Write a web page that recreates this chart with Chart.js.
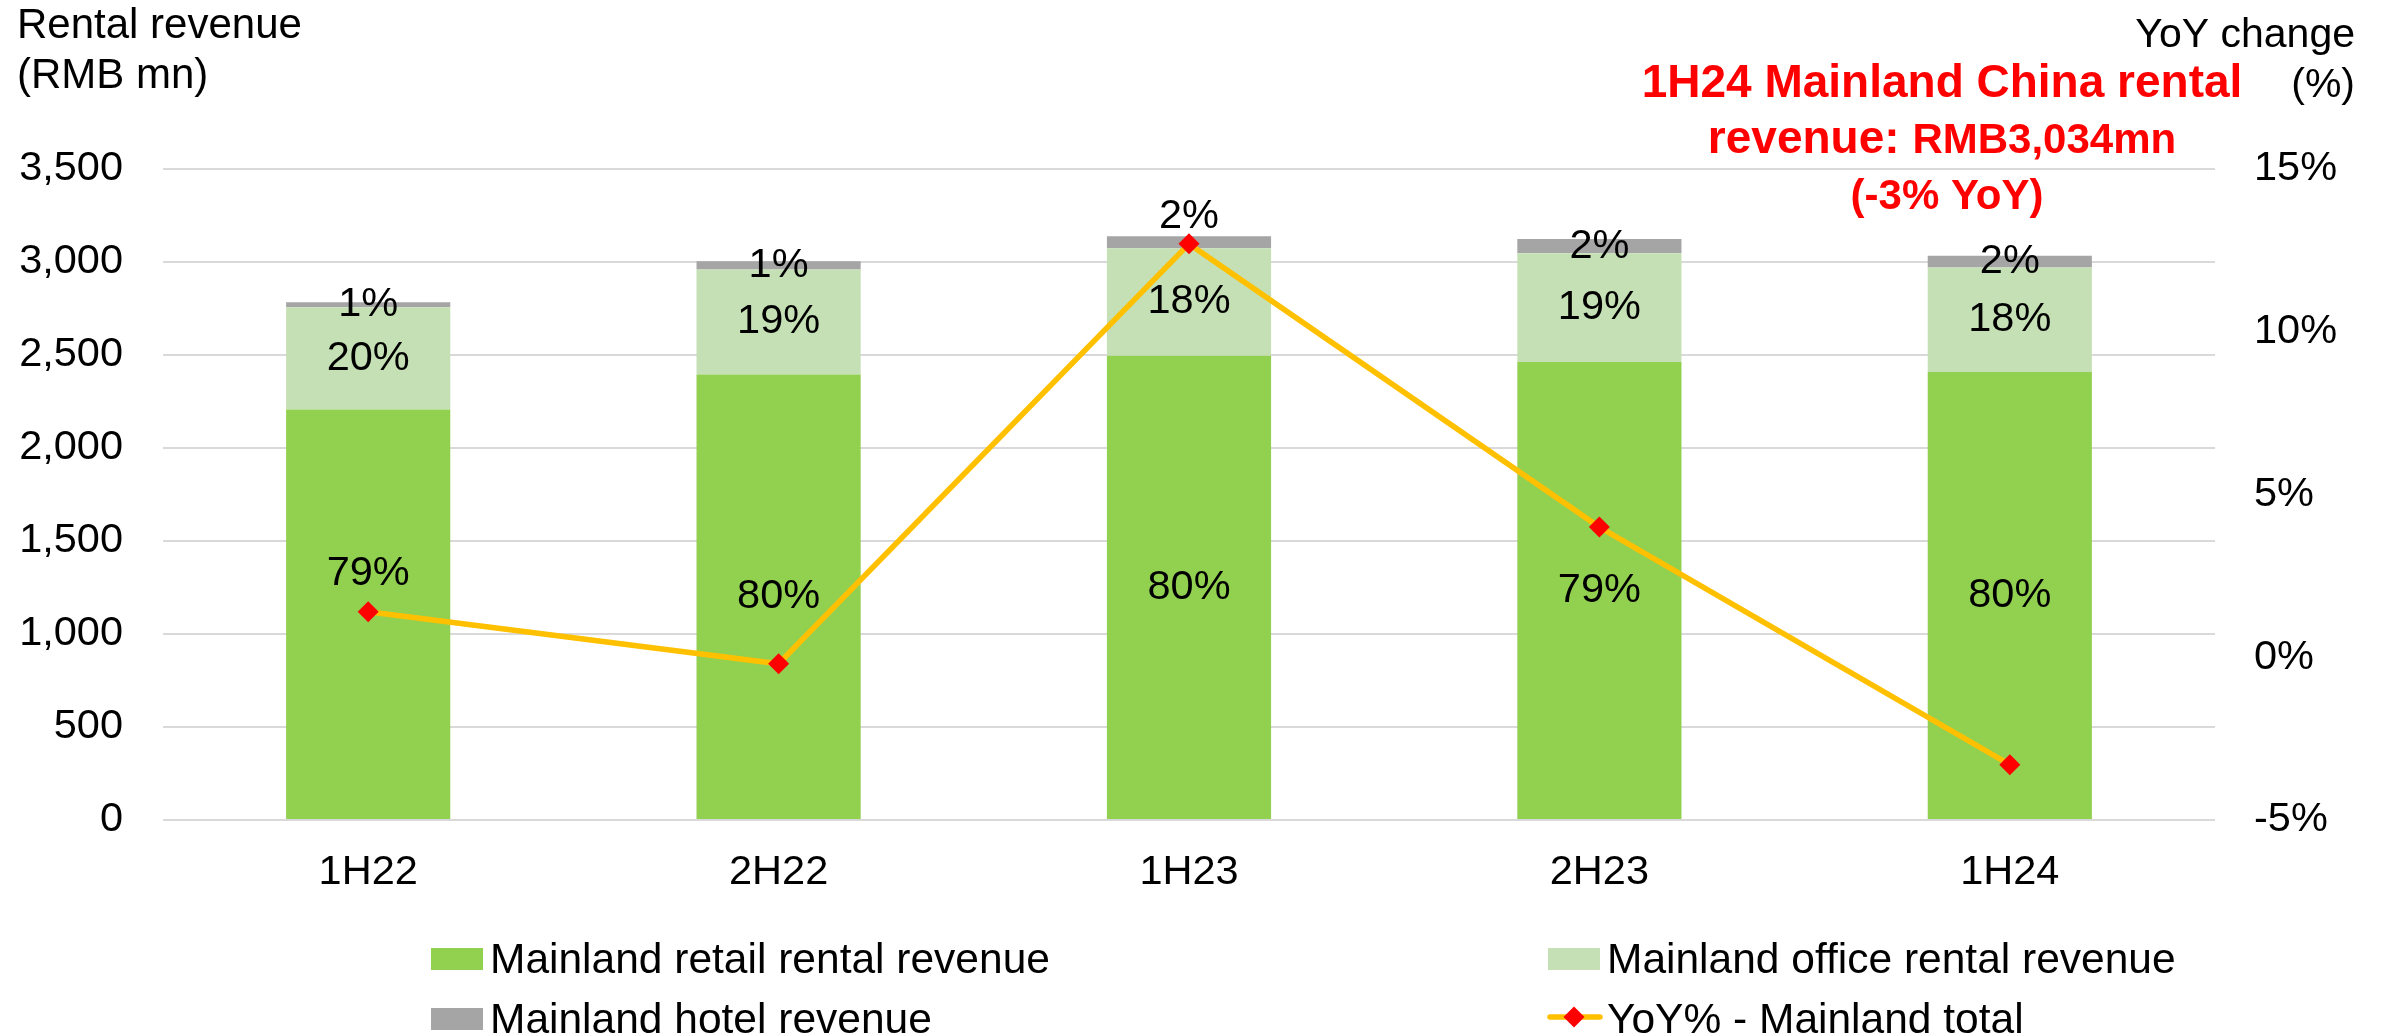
<!DOCTYPE html>
<html>
<head>
<meta charset="utf-8">
<script src="https://cdn.jsdelivr.net/npm/chart.js@4.4.1/dist/chart.umd.min.js"></script>
<style>
  html, body { margin: 0; padding: 0; background: #fff; }
  #wrap { width: 2387px; height: 1036px; }
</style>
</head>
<body>
<div id="wrap"><canvas id="chart" width="2387" height="1036"></canvas></div>
<script>
// values (RMB mn)
const periods = ["1H22", "2H22", "1H23", "2H23", "1H24"];
const retail = [2207, 2395, 2496, 2463, 2409];
const office = [550, 565, 578, 584, 561];
const hotel = [27, 44, 65, 77, 64];
const yoy = [1.4, -0.2, 12.7, 4.0, -3.3];

// percentage labels as printed on the bars
const retailShare = ["79%", "80%", "80%", "79%", "80%"];
const officeShare = ["20%", "19%", "18%", "19%", "18%"];
const hotelShare = ["1%", "1%", "2%", "2%", "2%"];

const FONT = '"Liberation Sans", Arial, Helvetica, sans-serif';
Chart.defaults.font.family = FONT;
Chart.defaults.font.size = 41.5;
Chart.defaults.color = "#000";

// a couple of labels sit off-centre in the original to dodge the line markers
const labelNudge = { 0: { 0: -41 }, 2: { 2: -26 } };

const shareLabels = {
  id: "shareLabels",
  afterDatasetsDraw(chart) {
    const ctx = chart.ctx;
    const sets = [retailShare, officeShare, hotelShare];
    ctx.save();
    ctx.font = "41.5px " + FONT;
    ctx.fillStyle = "#000";
    ctx.textAlign = "center";
    ctx.textBaseline = "middle";
    sets.forEach((texts, di) => {
      const meta = chart.getDatasetMeta(di);
      meta.data.forEach((bar, i) => {
        const yMid = (bar.y + bar.base) / 2;
        const nudge = (labelNudge[di] && labelNudge[di][i]) || 0;
        ctx.fillText(texts[i], bar.x, yMid + nudge);
      });
    });
    ctx.restore();
  },
};

const extraText = {
  id: "extraText",
  afterDraw(chart) {
    const ctx = chart.ctx;
    ctx.save();
    ctx.textBaseline = "alphabetic";
    ctx.fillStyle = "#000";
    ctx.font = "42px " + FONT;
    ctx.textAlign = "left";
    ctx.fillText("Rental revenue", 17, 38);
    ctx.fillText("(RMB mn)", 17, 88);
    ctx.font = "41px " + FONT;
    ctx.textAlign = "right";
    ctx.fillText("YoY change", 2355, 47);
    ctx.fillText("(%)", 2355, 97);

    // red callout
    ctx.fillStyle = "#FF0000";
    ctx.textAlign = "center";
    ctx.font = "bold 46px " + FONT;
    ctx.fillText("1H24 Mainland China rental", 1942, 97);
    const a = "revenue: ";
    const b = "RMB3,034mn";
    ctx.font = "bold 46px " + FONT;
    const wa = ctx.measureText(a).width;
    ctx.font = "bold 42px " + FONT;
    const wb = ctx.measureText(b).width;
    const x0 = 1942 - (wa + wb) / 2;
    ctx.textAlign = "left";
    ctx.font = "bold 46px " + FONT;
    ctx.fillText(a, x0, 153);
    ctx.font = "bold 42px " + FONT;
    ctx.fillText(b, x0 + wa, 153);
    ctx.textAlign = "center";
    ctx.fillText("(-3% YoY)", 1947, 209);

    // legend, two columns
    const ds = chart.data.datasets;
    const items = [
      { d: ds[0], x: 431, y: 959 },
      { d: ds[1], x: 1548, y: 959 },
      { d: ds[2], x: 431, y: 1019 },
      { d: ds[3], x: 1548, y: 1019 },
    ];
    ctx.font = "42.5px " + FONT;
    ctx.textAlign = "left";
    items.forEach((it) => {
      const d = it.d;
      if (d.type === "line") {
        ctx.strokeStyle = d.borderColor;
        ctx.lineWidth = 5.5;
        ctx.lineCap = "round";
        ctx.beginPath();
        ctx.moveTo(it.x + 2, it.y - 2);
        ctx.lineTo(it.x + 52, it.y - 2);
        ctx.stroke();
        ctx.fillStyle = d.pointBackgroundColor;
        const cx = it.x + 26, cy = it.y - 2, r = 10.5;
        ctx.beginPath();
        ctx.moveTo(cx - r, cy);
        ctx.lineTo(cx, cy - r);
        ctx.lineTo(cx + r, cy);
        ctx.lineTo(cx, cy + r);
        ctx.closePath();
        ctx.fill();
      } else {
        ctx.fillStyle = d.backgroundColor;
        ctx.fillRect(it.x, it.y - 11, 52, 22);
      }
      ctx.fillStyle = "#000";
      ctx.fillText(d.label, it.x + 59, it.y + 14);
    });
    ctx.restore();
  },
};

new Chart(document.getElementById("chart"), {
  data: {
    labels: periods,
    datasets: [
      {
        type: "bar",
        label: "Mainland retail rental revenue",
        data: retail,
        backgroundColor: "#92D050",
        yAxisID: "y",
        order: 1,
      },
      {
        type: "bar",
        label: "Mainland office rental revenue",
        data: office,
        backgroundColor: "#C5E0B4",
        yAxisID: "y",
        order: 1,
      },
      {
        type: "bar",
        label: "Mainland hotel revenue",
        data: hotel,
        backgroundColor: "#A5A5A5",
        yAxisID: "y",
        order: 1,
      },
      {
        type: "line",
        label: "YoY% - Mainland total",
        data: yoy,
        yAxisID: "y1",
        borderColor: "#FFC000",
        borderWidth: 5.5,
        tension: 0,
        pointStyle: "rectRot",
        pointRadius: 10.5,
        pointBackgroundColor: "#FF0000",
        pointBorderWidth: 0,
        order: 0,
      },
    ],
  },
  options: {
    responsive: false,
    animation: false,
    events: [],
    layout: { padding: { top: 169, bottom: 136, left: 0, right: 0 } },
    datasets: { bar: { categoryPercentage: 1, barPercentage: 0.4 } },
    plugins: { legend: { display: false }, tooltip: { enabled: false } },
    scales: {
      x: {
        stacked: true,
        grid: { display: false, drawTicks: false },
        border: { display: false },
        ticks: { padding: 28 },
        afterFit: (s) => { s.height = 80; },
      },
      y: {
        stacked: true,
        min: 0,
        max: 3500,
        grid: { color: "#D9D9D9", lineWidth: 2, drawTicks: false },
        border: { display: false },
        ticks: {
          stepSize: 500,
          padding: 40,
          callback: (v) => v.toLocaleString("en-US"),
        },
        afterFit: (s) => { s.width = 163; },
      },
      y1: {
        position: "right",
        min: -5,
        max: 15,
        grid: { display: false, drawTicks: false },
        border: { display: false },
        ticks: { stepSize: 5, padding: 39, callback: (v) => v + "%" },
        afterFit: (s) => { s.width = 172; },
      },
    },
  },
  plugins: [shareLabels, extraText],
});
</script>
</body>
</html>
